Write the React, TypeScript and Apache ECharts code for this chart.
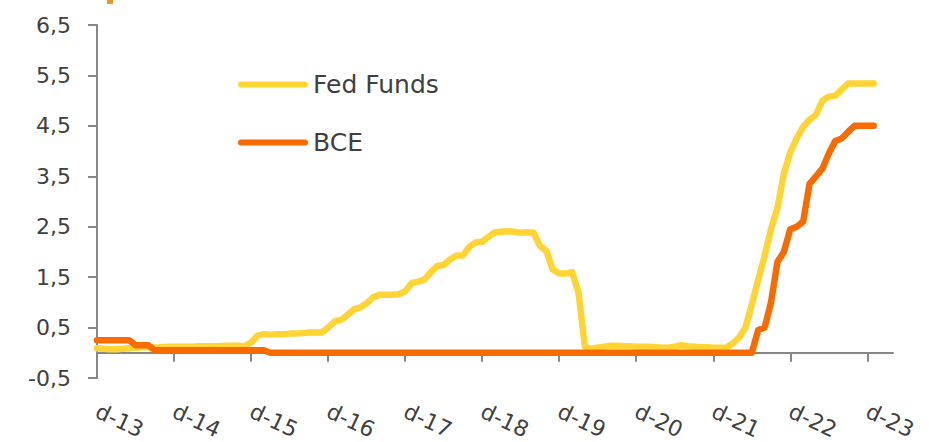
import React, { useEffect, useRef } from "react";
import * as echarts from "echarts";

const monthLetters = ["e", "f", "m", "a", "m", "j", "j", "a", "s", "o", "n", "d"];
const startYear = 2013; // first category: Dec 2013
const categoryCount = 125; // Dec 2013 .. Apr 2024

const categories: string[] = [];
for (let i = 0; i < categoryCount; i++) {
  const m = (11 + i) % 12;
  const y = startYear + Math.floor((11 + i) / 12);
  categories.push(monthLetters[m] + "-" + String(y).slice(2));
}

const fedFunds: (number | null)[] = [
  0.09, 0.08, 0.07, 0.07, 0.08, 0.09, 0.1, 0.11, 0.11, 0.1, 0.11, 0.12,
  0.12, 0.12, 0.12, 0.12, 0.13, 0.13, 0.13, 0.13, 0.14, 0.14, 0.14, 0.13,
  0.2, 0.34, 0.37, 0.36, 0.37, 0.37, 0.38, 0.38, 0.39, 0.4, 0.4, 0.4,
  0.5, 0.62, 0.65, 0.75, 0.86, 0.9, 0.98, 1.1, 1.15, 1.15, 1.15, 1.16,
  1.22, 1.38, 1.41, 1.45, 1.6, 1.72, 1.74, 1.85, 1.93, 1.93, 2.1, 2.19,
  2.2, 2.3, 2.39, 2.4, 2.41, 2.4, 2.38, 2.39, 2.38, 2.12, 2.02, 1.65,
  1.57, 1.57, 1.6, 1.2, 0.12, 0.08, 0.1, 0.12, 0.14, 0.14, 0.13, 0.13,
  0.12, 0.12, 0.12, 0.11, 0.1, 0.1, 0.12, 0.15, 0.13, 0.12, 0.11, 0.11,
  0.1, 0.1, 0.1, 0.18, 0.3, 0.5, 0.95, 1.45, 1.92, 2.45, 2.88, 3.55,
  3.98, 4.25, 4.48, 4.62, 4.72, 5.0, 5.08, 5.1, 5.22, 5.34, 5.34, 5.34,
  5.34, 5.34, null, null, null,
];

const bce: (number | null)[] = [
  0.25, 0.25, 0.25, 0.25, 0.25, 0.25, 0.15, 0.15, 0.15, 0.05, 0.05, 0.05,
  0.05, 0.05, 0.05, 0.05, 0.05, 0.05, 0.05, 0.05, 0.05, 0.05, 0.05, 0.05,
  0.05, 0.05, 0.05, 0, 0, 0, 0, 0, 0, 0, 0, 0,
  0, 0, 0, 0, 0, 0, 0, 0, 0, 0, 0, 0,
  0, 0, 0, 0, 0, 0, 0, 0, 0, 0, 0, 0,
  0, 0, 0, 0, 0, 0, 0, 0, 0, 0, 0, 0,
  0, 0, 0, 0, 0, 0, 0, 0, 0, 0, 0, 0,
  0, 0, 0, 0, 0, 0, 0, 0, 0, 0, 0, 0,
  0, 0, 0, 0, 0, 0, 0, 0.45, 0.5, 1.0, 1.8, 2.0,
  2.45, 2.5, 2.6, 3.35, 3.5, 3.65, 3.95, 4.2, 4.25, 4.38, 4.5, 4.5,
  4.5, 4.5, null, null, null,
];

const seriesNames = ["Fed Funds", "BCE"];
const yMin = -0.5;
const yMax = 6.5;
const yStep = 1;

const FONT = "DejaVu Sans";
const TEXT = "#404040";
const AXIS = "#878787";
const YELLOW = "#FFD434";
const ORANGE = "#F86B00";

const legendIcon = "path://M3,0 H67 A3,3 0 0 1 67,6 H3 A3,3 0 0 1 3,0 Z";

export default function App() {
  const ref = useRef<HTMLDivElement>(null);
  useEffect(() => {
    document.body.style.margin = "0";
    if (!ref.current) return;
    const chart = echarts.init(ref.current, undefined, { renderer: "svg" });
    chart.setOption({
      animation: false,
      backgroundColor: "#ffffff",
      grid: {
        left: 97,
        right: 36,
        top: 25,
        bottom: 64,
        containLabel: false,
        outerBoundsMode: "none",
      },
      legend: {
        orient: "vertical",
        left: 233,
        top: 67,
        itemWidth: 70,
        itemHeight: 6,
        itemGap: 33,
        textStyle: { fontFamily: FONT, fontSize: 25, color: TEXT },
        data: [
          { name: seriesNames[0], icon: legendIcon, itemStyle: { color: YELLOW } },
          { name: seriesNames[1], icon: legendIcon, itemStyle: { color: ORANGE } },
        ],
      },
      xAxis: {
        type: "category",
        data: categories,
        boundaryGap: false,
        axisLine: { show: true, onZero: true, lineStyle: { color: AXIS, width: 2 } },
        axisTick: {
          show: true,
          length: 9,
          interval: (i: number) => i % 12 === 0,
          lineStyle: { color: AXIS, width: 2 },
        },
        axisLabel: {
          interval: (i: number) => i % 12 === 0,
          rotate: -25,
          margin: 32,
          fontFamily: FONT,
          fontSize: 22,
          color: TEXT,
        },
        splitLine: { show: false },
      },
      yAxis: {
        type: "value",
        min: yMin,
        max: yMax,
        interval: yStep,
        axisLine: { show: true, lineStyle: { color: AXIS, width: 2 } },
        axisTick: { show: true, length: 9, lineStyle: { color: AXIS, width: 2 } },
        axisLabel: {
          margin: 26,
          fontFamily: FONT,
          fontSize: 22,
          color: TEXT,
          formatter: (v: number) => String(Math.round(v * 10) / 10).replace(".", ","),
        },
        splitLine: { show: false },
      },
      graphic: [
        { type: "rect", shape: { x: 107, y: 0, width: 6, height: 4 }, style: { fill: "#F7941D" } },
      ],
      series: [
        {
          name: seriesNames[0],
          type: "line",
          data: fedFunds,
          showSymbol: false,
          symbol: "none",
          connectNulls: false,
          lineStyle: { color: YELLOW, width: 6.5, cap: "round", join: "round" },
          itemStyle: { color: YELLOW },
          z: 2,
        },
        {
          name: seriesNames[1],
          type: "line",
          data: bce,
          showSymbol: false,
          symbol: "none",
          connectNulls: false,
          lineStyle: { color: ORANGE, width: 6.5, cap: "round", join: "round" },
          itemStyle: { color: ORANGE },
          z: 3,
        },
      ],
    });
    return () => chart.dispose();
  }, []);
  return <div ref={ref} style={{ width: 929, height: 442 }} />;
}
